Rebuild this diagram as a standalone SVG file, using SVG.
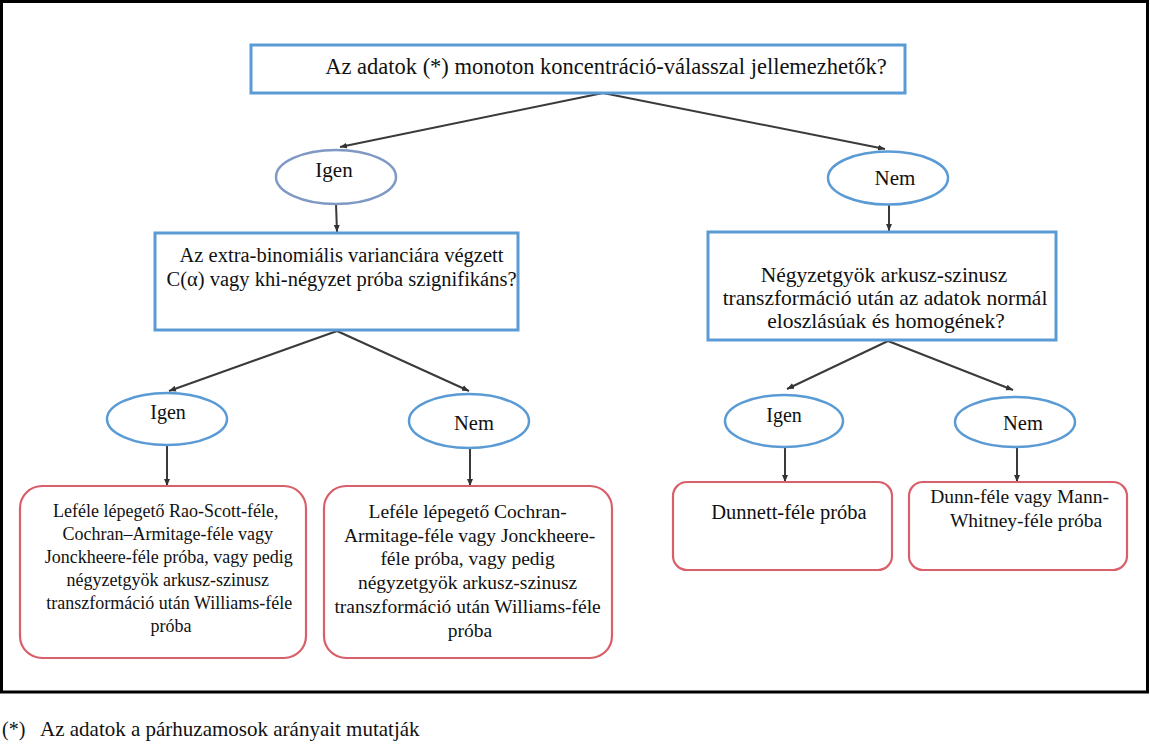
<svg xmlns="http://www.w3.org/2000/svg" width="1150" height="745" viewBox="0 0 1150 745">
<defs>
<marker id="arr" markerUnits="userSpaceOnUse" markerWidth="8" markerHeight="8" refX="7" refY="4" orient="auto">
<path d="M0,1 L7,4 L0,7 Z" fill="#333"/>
</marker>
<style>
.t{font-family:"Liberation Serif","Times New Roman",serif;fill:#111;text-anchor:middle}
.q{fill:#fff;stroke:#5b9bd5;stroke-width:3}
.e{fill:#fff;stroke:#5b9bd5;stroke-width:2.5}
.e0{fill:#fff;stroke:#7f98c4;stroke-width:2.5}
.r{fill:#fff;stroke:#d9606a;stroke-width:2.2}
.c{stroke:#3a3a3a;stroke-width:2;fill:none;marker-end:url(#arr)}
</style>
</defs>
<rect x="1.5" y="1.5" width="1146" height="690.5" fill="#fff" stroke="#000" stroke-width="3"/>
<g id="connectors">
<line class="c" x1="603" y1="93" x2="340" y2="147"/>
<line class="c" x1="603" y1="93" x2="885" y2="149"/>
<line class="c" x1="336" y1="204" x2="337" y2="232"/>
<line class="c" x1="889" y1="205" x2="889" y2="231"/>
<line class="c" x1="337" y1="331" x2="169" y2="391"/>
<line class="c" x1="337" y1="331" x2="469" y2="391"/>
<line class="c" x1="888" y1="341" x2="787" y2="389"/>
<line class="c" x1="888" y1="341" x2="1013" y2="390"/>
<line class="c" x1="167" y1="446" x2="167" y2="486"/>
<line class="c" x1="470" y1="448" x2="470" y2="486"/>
<line class="c" x1="785" y1="447" x2="785" y2="482"/>
<line class="c" x1="1017" y1="448" x2="1017" y2="482"/>
</g>
<g id="q1">
<rect class="q" x="251" y="45" width="654" height="48"/>
<text class="t" x="606" y="74" font-size="22.5">Az adatok (*) monoton koncentráció-válasszal jellemezhetők?</text>
</g>
<g id="igen1">
<ellipse class="e0" cx="336" cy="177" rx="60" ry="27"/>
<text class="t" x="334" y="177" font-size="21">Igen</text>
</g>
<g id="nem1">
<ellipse class="e" cx="888" cy="178" rx="60" ry="26.5"/>
<text class="t" x="895" y="185" font-size="21">Nem</text>
</g>
<g id="q2">
<rect class="q" x="155" y="233" width="363" height="97" stroke-width="2.5"/>
<text class="t" x="341.5" y="262" font-size="20.5">Az extra-binomiális varianciára végzett</text>
<text class="t" x="341.5" y="285.5" font-size="20.5">C(α) vagy khi-négyzet próba szignifikáns?</text>
</g>
<g id="q3">
<rect class="q" x="708" y="232" width="348" height="108" stroke-width="2.5"/>
<text class="t" x="884" y="282" font-size="21.5">Négyzetgyök arkusz-szinusz</text>
<text class="t" x="885" y="305" font-size="21.5">transzformáció után az adatok normál</text>
<text class="t" x="886" y="328" font-size="21.5">eloszlásúak és homogének?</text>
</g>
<g id="igen2">
<ellipse class="e" cx="167" cy="419" rx="60" ry="26"/>
<text class="t" x="168" y="419" font-size="20">Igen</text>
</g>
<g id="nem2">
<ellipse class="e" cx="469" cy="421" rx="60" ry="27"/>
<text class="t" x="474" y="430" font-size="20.5">Nem</text>
</g>
<g id="igen3">
<ellipse class="e" cx="784" cy="421" rx="59" ry="26"/>
<text class="t" x="784" y="422" font-size="20">Igen</text>
</g>
<g id="nem3">
<ellipse class="e" cx="1015" cy="422" rx="60" ry="25"/>
<text class="t" x="1023" y="430" font-size="20.5">Nem</text>
</g>
<g id="a1">
<rect class="r" x="20" y="486" width="286" height="172" rx="22"/>
<text class="t" font-size="18">
<tspan x="168" y="517">Leféle lépegető Rao-Scott-féle,</tspan>
<tspan x="170" y="540">Cochran–Armitage-féle vagy</tspan>
<tspan x="171" y="563">Jonckheere-féle próba, vagy pedig</tspan>
<tspan x="170" y="586">négyzetgyök arkusz-szinusz</tspan>
<tspan x="171.5" y="609">transzformáció után Williams-féle</tspan>
<tspan x="171" y="632">próba</tspan>
</text>
</g>
<g id="a2">
<rect class="r" x="324" y="486" width="288" height="172" rx="22"/>
<text class="t" font-size="19.5">
<tspan x="470" y="518">Leféle lépegető Cochran-</tspan>
<tspan x="472" y="542">Armitage-féle vagy Jonckheere-</tspan>
<tspan x="470" y="565">féle próba, vagy pedig</tspan>
<tspan x="470" y="589">négyzetgyök arkusz-szinusz</tspan>
<tspan x="470" y="613">transzformáció után Williams-féle</tspan>
<tspan x="470" y="637">próba</tspan>
</text>
</g>
<g id="a3">
<rect class="r" x="673" y="482" width="219" height="88" rx="14"/>
<text class="t" x="789" y="519" font-size="20.5">Dunnett-féle próba</text>
</g>
<g id="a4">
<rect class="r" x="909" y="482" width="218" height="88" rx="14"/>
<text class="t" font-size="19.5">
<tspan x="1022" y="503">Dunn-féle vagy Mann-</tspan>
<tspan x="1026" y="527">Whitney-féle próba</tspan>
</text>
</g>
<g id="footnote">
<text x="2" y="736" font-family="Liberation Serif, serif" font-size="20" fill="#111">(*)</text>
<text x="40" y="736" font-family="Liberation Serif, serif" font-size="21" fill="#111">Az adatok a párhuzamosok arányait mutatják</text>
</g>
</svg>
